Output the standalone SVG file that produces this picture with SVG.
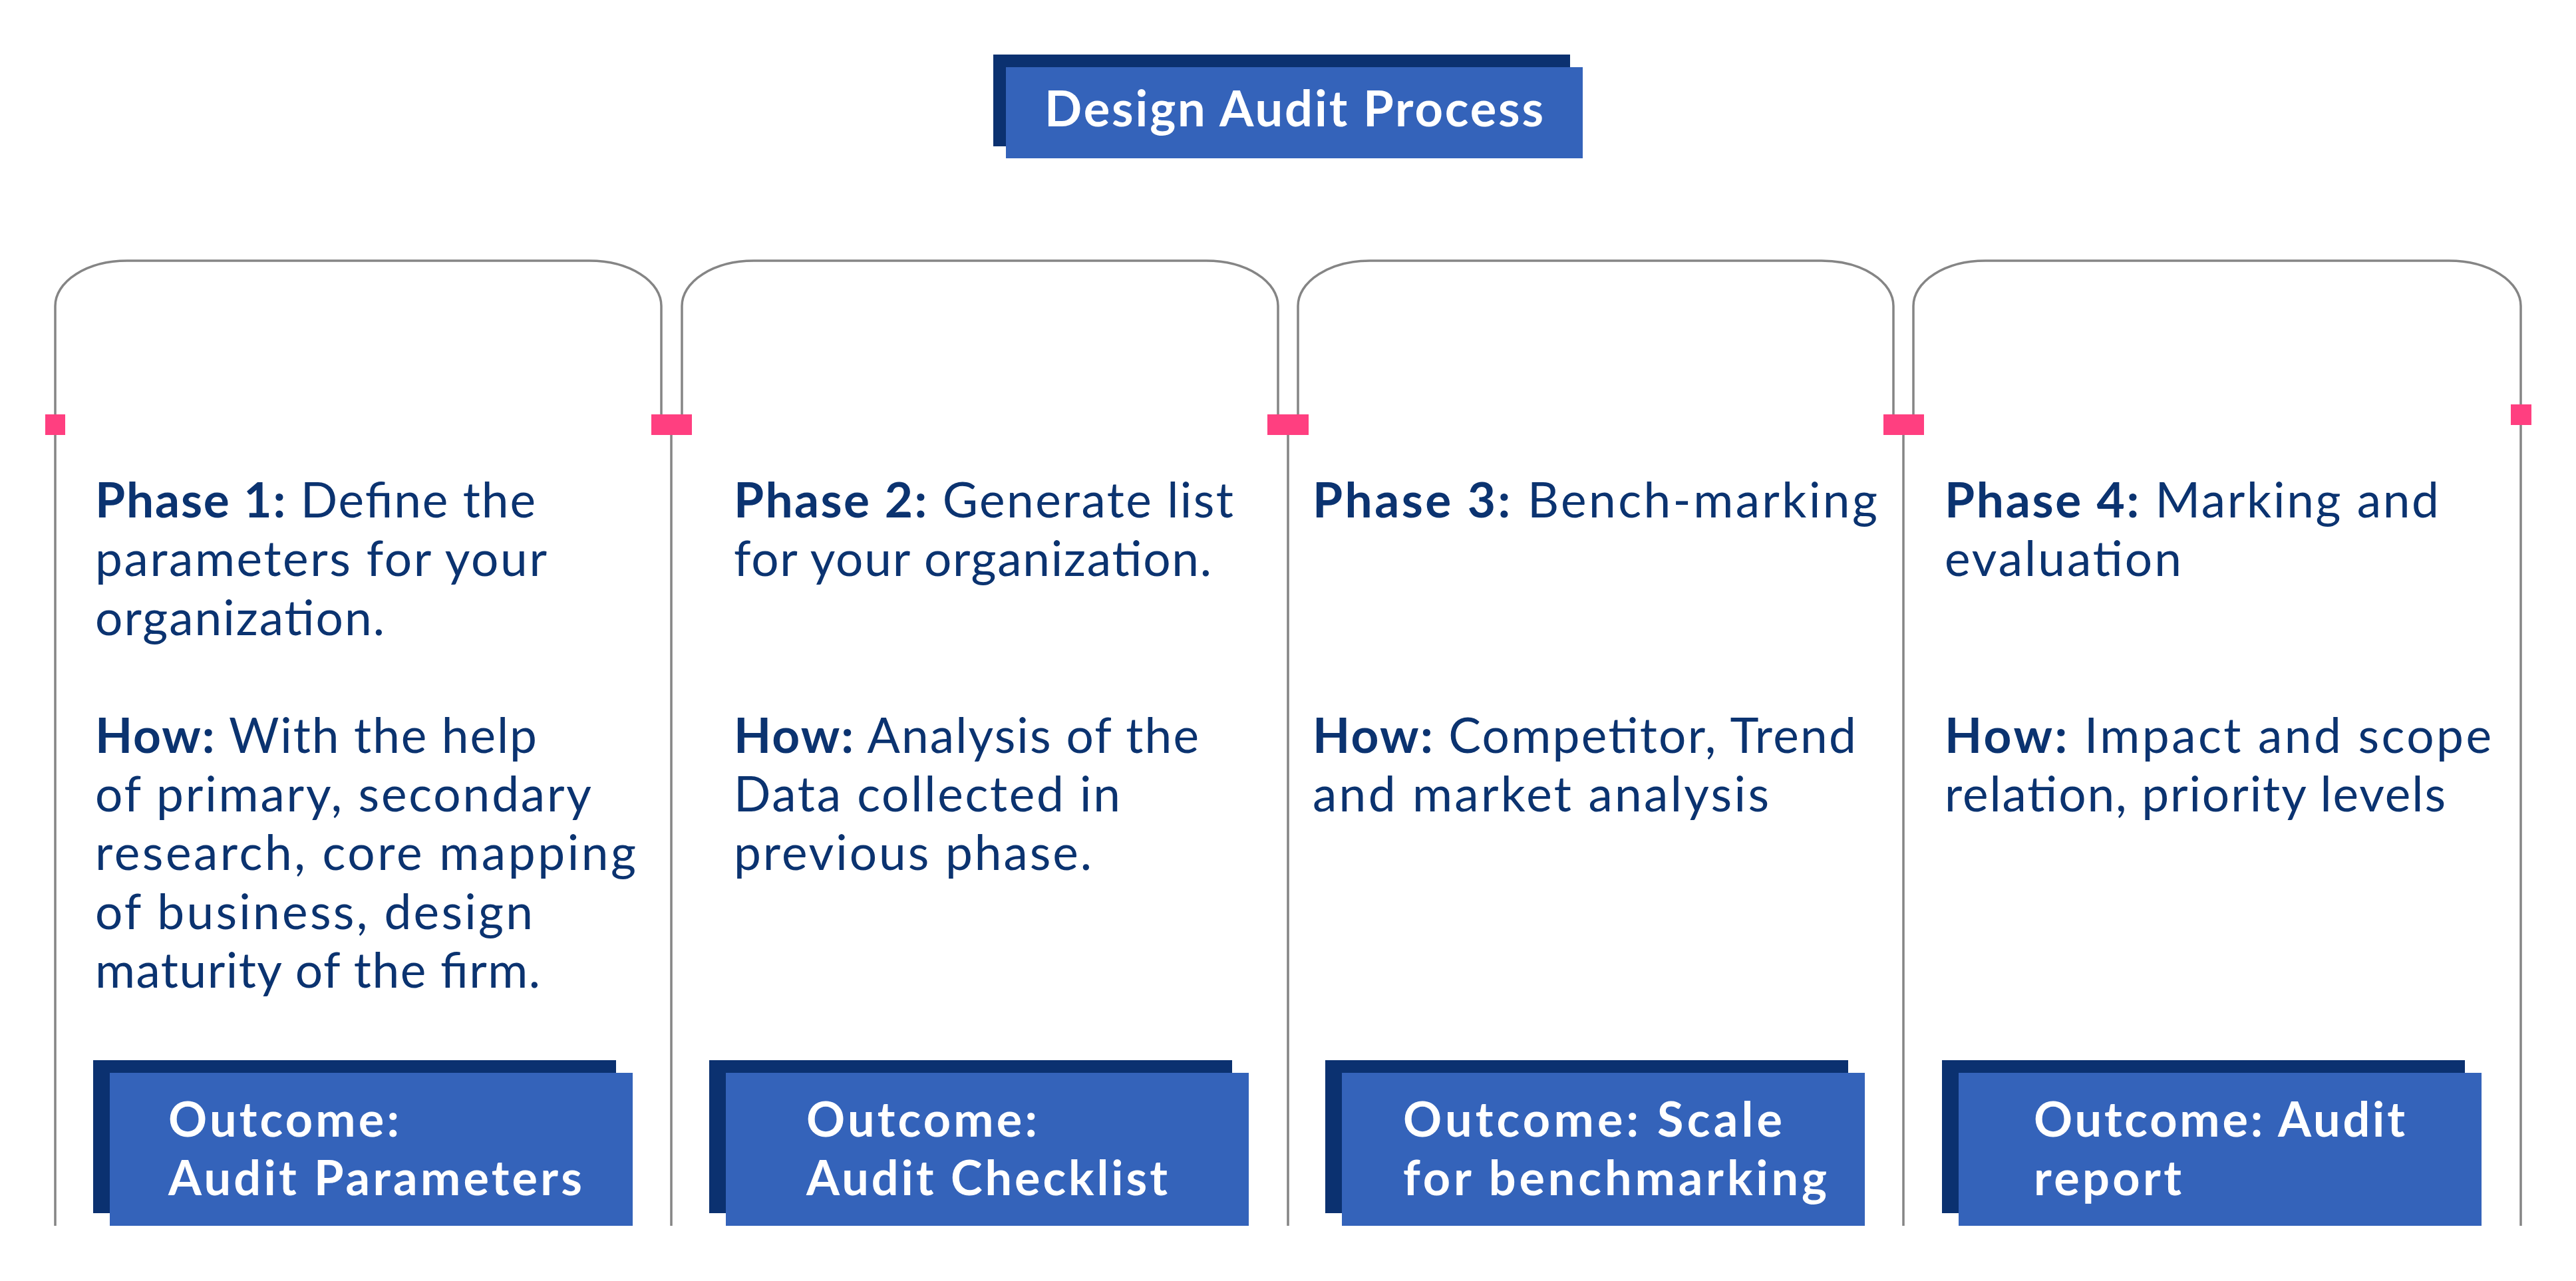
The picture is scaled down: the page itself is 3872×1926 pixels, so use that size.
<svg xmlns="http://www.w3.org/2000/svg" width="3872" height="1926" viewBox="0 0 3872 1926">
<defs>
<style>
.bg{fill:#ffffff}
.arch{fill:none;stroke:#858585;stroke-width:3.5}
.line{fill:none;stroke:#858585;stroke-width:3.5}
.pink{fill:#ff3f80}
.dark{fill:#0b3170}
.light{fill:#3463ba}
.body{font-family:Lato,"Open Sans","Liberation Sans",sans-serif;font-size:73px;fill:#0b3370}
.b{font-weight:700}
.out{font-family:Lato,"Open Sans","Liberation Sans",sans-serif;font-size:72px;font-weight:700;fill:#ffffff}
.title{font-family:Lato,"Open Sans","Liberation Sans",sans-serif;font-size:74px;font-weight:700;fill:#ffffff}
</style>
</defs>
<rect class="bg" x="0" y="0" width="3872" height="1926"/>

<g id="title">
<rect class="dark" x="1493" y="82" width="867" height="138"/>
<rect class="light" x="1512" y="101" width="867" height="137"/>
<text class="title" x="1570" y="190" textLength="750" lengthAdjust="spacing">Design Audit Process</text>
</g>

<g id="connectors">
<path class="line" d="M83,654 V1843"/>
<path class="line" d="M1009,654 V1843"/>
<path class="line" d="M1936,654 V1843"/>
<path class="line" d="M2861,654 V1843"/>
<path class="line" d="M3789,639 V1843"/>
<rect class="pink" x="68" y="623" width="30" height="31"/>
<rect class="pink" x="979" y="623" width="61" height="31"/>
<rect class="pink" x="1905" y="623" width="62" height="31"/>
<rect class="pink" x="2831" y="623" width="61" height="31"/>
<rect class="pink" x="3774" y="608" width="31" height="31"/>
</g>

<g id="phase1">
<path class="arch" d="M83,623 V460 A108,68 0 0 1 191,392 H886 A108,68 0 0 1 994,460 V623"/>
<text class="body" x="143" y="778" textLength="662" lengthAdjust="spacing"><tspan class="b">Phase 1:</tspan> Define the</text>
<text class="body" x="143" y="866" textLength="679" lengthAdjust="spacing">parameters for your</text>
<text class="body" x="143" y="955" textLength="435" lengthAdjust="spacing">organization.</text>
<text class="body" x="143" y="1132" textLength="664" lengthAdjust="spacing"><tspan class="b">How:</tspan> With the help</text>
<text class="body" x="143" y="1220" textLength="746" lengthAdjust="spacing">of primary, secondary</text>
<text class="body" x="143" y="1308" textLength="813" lengthAdjust="spacing">research, core mapping</text>
<text class="body" x="143" y="1397" textLength="658" lengthAdjust="spacing">of business, design</text>
<text class="body" x="143" y="1485" textLength="669" lengthAdjust="spacing">maturity of the firm.</text>
<rect class="dark" x="140" y="1594" width="786" height="230"/>
<rect class="light" x="165" y="1613" width="786" height="230"/>
<text class="out" x="253" y="1709" textLength="347" lengthAdjust="spacing">Outcome:</text>
<text class="out" x="253" y="1797" textLength="622" lengthAdjust="spacing">Audit Parameters</text>
</g>

<g id="phase2">
<path class="arch" d="M1025,623 V460 A108,68 0 0 1 1133,392 H1813 A108,68 0 0 1 1921,460 V623"/>
<text class="body" x="1103" y="778" textLength="751" lengthAdjust="spacing"><tspan class="b">Phase 2:</tspan> Generate list</text>
<text class="body" x="1103" y="866" textLength="718" lengthAdjust="spacing">for your organization.</text>
<text class="body" x="1103" y="1132" textLength="699" lengthAdjust="spacing"><tspan class="b">How:</tspan> Analysis of the</text>
<text class="body" x="1103" y="1220" textLength="581" lengthAdjust="spacing">Data collected in</text>
<text class="body" x="1103" y="1308" textLength="538" lengthAdjust="spacing">previous phase.</text>
<rect class="dark" x="1066" y="1594" width="786" height="230"/>
<rect class="light" x="1091" y="1613" width="786" height="230"/>
<text class="out" x="1212" y="1709" textLength="347" lengthAdjust="spacing">Outcome:</text>
<text class="out" x="1212" y="1797" textLength="543" lengthAdjust="spacing">Audit Checklist</text>
</g>

<g id="phase3">
<path class="arch" d="M1951,623 V460 A108,68 0 0 1 2059,392 H2738 A108,68 0 0 1 2846,460 V623"/>
<text class="body" x="1973" y="778" textLength="849" lengthAdjust="spacing"><tspan class="b">Phase 3:</tspan> Bench-marking</text>
<text class="body" x="1973" y="1132" textLength="817" lengthAdjust="spacing"><tspan class="b">How:</tspan> Competitor, Trend</text>
<text class="body" x="1973" y="1220" textLength="686" lengthAdjust="spacing">and market analysis</text>
<rect class="dark" x="1992" y="1594" width="786" height="230"/>
<rect class="light" x="2017" y="1613" width="786" height="230"/>
<text class="out" x="2109" y="1709" textLength="570" lengthAdjust="spacing">Outcome: Scale</text>
<text class="out" x="2109" y="1797" textLength="637" lengthAdjust="spacing">for benchmarking</text>
</g>

<g id="phase4">
<path class="arch" d="M2876,623 V460 A108,68 0 0 1 2984,392 H3681 A108,68 0 0 1 3789,460 V608"/>
<text class="body" x="2923" y="778" textLength="743" lengthAdjust="spacing"><tspan class="b">Phase 4:</tspan> Marking and</text>
<text class="body" x="2923" y="866" textLength="356" lengthAdjust="spacing">evaluation</text>
<text class="body" x="2923" y="1132" textLength="822" lengthAdjust="spacing"><tspan class="b">How:</tspan> Impact and scope</text>
<text class="body" x="2923" y="1220" textLength="753" lengthAdjust="spacing">relation, priority levels</text>
<rect class="dark" x="2919" y="1594" width="786" height="230"/>
<rect class="light" x="2944" y="1613" width="786" height="230"/>
<text class="out" x="3057" y="1709" textLength="558" lengthAdjust="spacing">Outcome: Audit</text>
<text class="out" x="3057" y="1797" textLength="222" lengthAdjust="spacing">report</text>
</g>
</svg>
